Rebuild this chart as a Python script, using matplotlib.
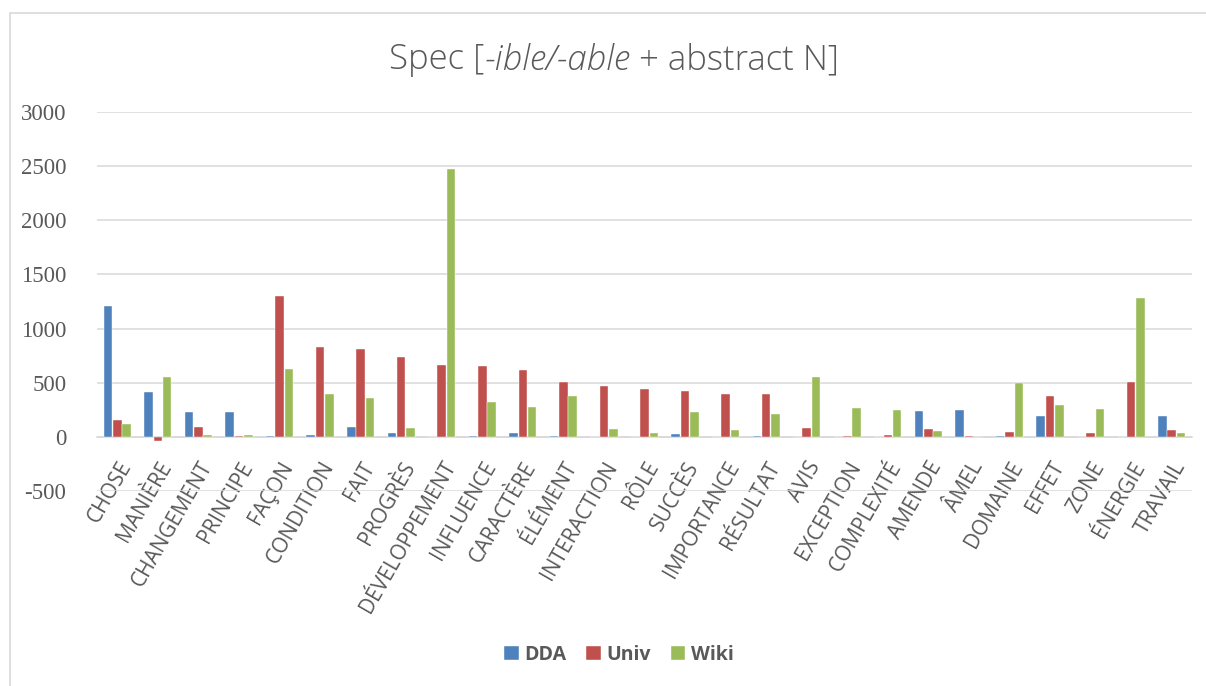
import matplotlib
matplotlib.use("Agg")
import matplotlib.pyplot as plt
import numpy as np
from matplotlib.patches import Rectangle

categories = ["CHOSE", "MANIÈRE", "CHANGEMENT", "PRINCIPE", "FAÇON", "CONDITION", "FAIT",
              "PROGRÈS", "DÉVELOPPEMENT", "INFLUENCE", "CARACTÈRE", "ÉLÉMENT", "INTERACTION",
              "RÔLE", "SUCCÈS", "IMPORTANCE", "RÉSULTAT", "AVIS", "EXCEPTION", "COMPLEXITÉ",
              "AMENDE", "ÂMEL", "DOMAINE", "EFFET", "ZONE", "ÉNERGIE", "TRAVAIL"]
dda = [1213, 416, 231, 228, 8, 18, 95, 40, 3, 5, 37, 6, 0, 0, 28, 0, 5, 0, 0, 0,
       240, 249, 5, 194, 0, 0, 194]
univ = [157, -40, 92, 6, 1300, 829, 813, 742, 665, 656, 613, 505, 474, 444, 419, 400, 394, 80,
        5, 18, 68, 9, 43, 379, 34, 505, 65]
wiki = [117, 554, 18, 15, 625, 397, 357, 80, 2470, 326, 277, 379, 74, 40, 231, 65, 212, 554,
        271, 246, 52, 0, 493, 296, 259, 1284, 40]
series_names = ["DDA", "Univ", "Wiki"]
colors = ["#4F81BD", "#C0504D", "#9BBB59"]
yticks = [-500, 0, 500, 1000, 1500, 2000, 2500, 3000]
title_parts = [("Spec [", "normal"), ("-ible/-able", "italic"), (" + abstract N]", "normal")]

W, H = 1206, 686
fig = plt.figure(figsize=(W / 100, H / 100), dpi=100)
fig.patch.set_facecolor("white")

# outer chart border
fig.patches.append(Rectangle((10 / W, -0.05), 1.2, 1 - 13.5 / H + 0.05, transform=fig.transFigure,
                             fill=False, edgecolor="#D9D9D9", linewidth=1.2, zorder=0))

ax = fig.add_axes([97 / W, 1 - 491 / H, (1192 - 97) / W, (491 - 112) / H])
x = np.arange(len(categories))
bw = 0.21
step = 0.23
for k, (vals, c, name) in enumerate(zip([dda, univ, wiki], colors, series_names)):
    ax.bar(x + (k - 1) * step, vals, width=bw, color=c, label=name,
           edgecolor="white", linewidth=0.3, zorder=3)

ax.set_xlim(-0.5, len(categories) - 0.5)
ax.set_ylim(-500, 3000)
ax.set_yticks(yticks)
ax.set_yticklabels([str(v) for v in yticks], fontfamily="Liberation Serif", fontsize=16.5,
                   color="#595959")
ax.yaxis.grid(True, color="#D9D9D9", linewidth=1.1, zorder=0)
ax.set_axisbelow(True)
for s in ["left", "right", "top"]:
    ax.spines[s].set_visible(False)
ax.spines["bottom"].set_position(("data", 0))
ax.spines["bottom"].set_color("#D9D9D9")
ax.spines["bottom"].set_linewidth(1.1)
ax.tick_params(axis="y", length=0, pad=22)
ax.tick_params(axis="x", length=0, pad=15)
ax.set_xticks(x)
ax.set_xticklabels(categories, rotation=60, ha="right", rotation_mode="anchor",
                   fontfamily="Open Sans", fontsize=15, color="#595959")

# title built from pieces (normal / italic)
renderer = fig.canvas.get_renderer()
texts = []
for s, style in title_parts:
    t = fig.text(0, 1 - 60 / H, s, ha="left", va="center", fontsize=25, color="#595959",
                 fontfamily="Open Sans", fontweight="light", fontstyle=style)
    texts.append(t)
widths = [t.get_window_extent(renderer).width for t in texts]
total = sum(widths)
xpos = 614 - total / 2
for t, w in zip(texts, widths):
    t.set_x(xpos / W)
    xpos += w

leg = fig.legend(loc="center", bbox_to_anchor=(619 / W, 1 - 655 / H), ncol=3, frameon=False,
                 prop={"family": "Open Sans", "weight": "bold", "size": 14},
                 handlelength=0.75, handleheight=0.75, handletextpad=0.3, columnspacing=1.0,
                 labelcolor="#595959")

fig.savefig("out.png", dpi=100, facecolor="white")
